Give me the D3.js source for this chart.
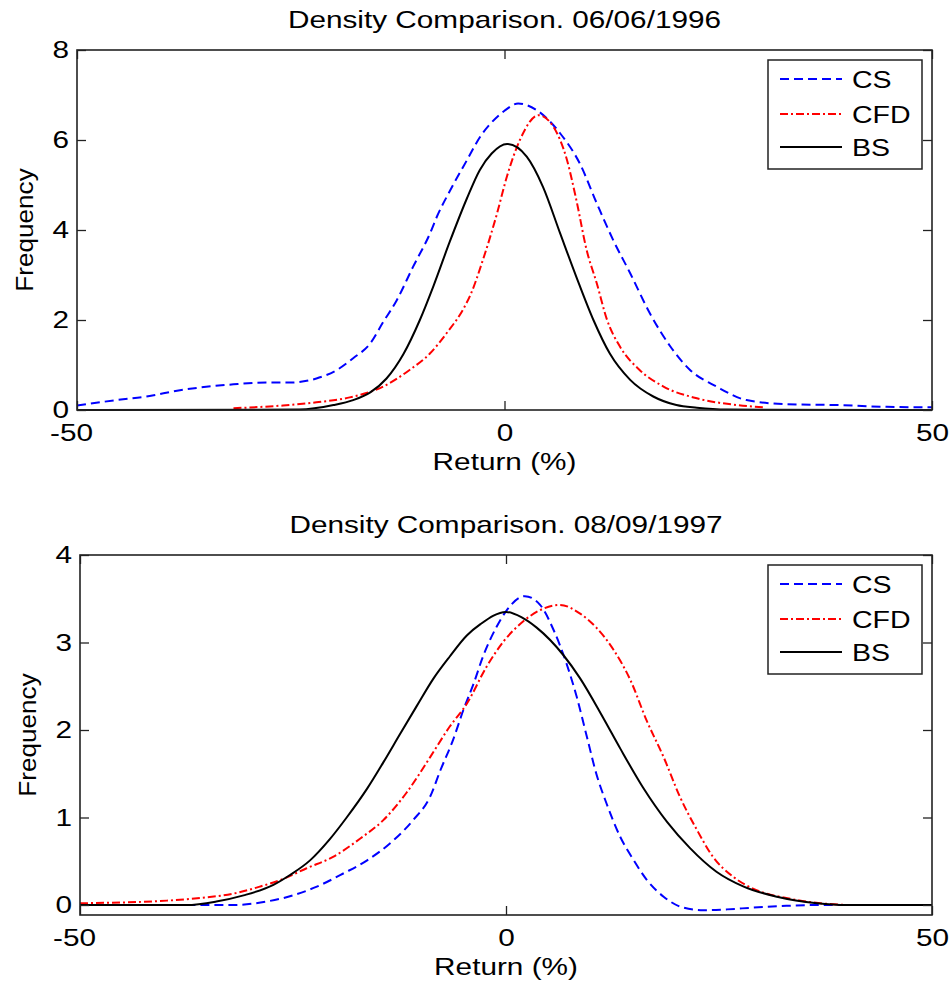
<!DOCTYPE html>
<html>
<head>
<meta charset="utf-8">
<script src="https://cdn.jsdelivr.net/npm/d3@7"></script>
<style>
body { margin: 0; background: #fff; }
</style>
</head>
<body>
<div id="chart"></div>
<script>
// values, [return %, frequency]
var xTicks = [-50, 0, 50];
var yTicks1996 = [0, 2, 4, 6, 8];
var yTicks1997 = [0, 1, 2, 3, 4];
var seriesNames = ["CS", "CFD", "BS"];

var cs1996 = [[-50,0.10],[-45.4,0.22],[-41.5,0.31],[-38.3,0.43],[-35.6,0.50],[-31.7,0.57],[-27.8,0.61],
  [-25.1,0.61],[-22.0,0.70],[-19.6,0.89],[-17.7,1.15],[-15.7,1.48],[-14.2,1.95],[-12.6,2.44],[-10.7,3.18],
  [-8.7,3.93],[-7.9,4.30],[-6.3,4.90],[-4.4,5.55],[-2.75,6.10],[-1.7,6.35],[0,6.65],[1.6,6.81],[3.7,6.67],
  [6.5,6.15],[8.8,5.48],[10.8,4.59],[12.7,3.78],[14.7,3.04],[17.0,2.15],[19.4,1.41],[21.7,0.89],[24.8,0.52],
  [28.3,0.22],[33.0,0.13],[38.8,0.11],[44.7,0.07],[50,0.06]];
var cfd1996 = [[-31.7,0.04],[-25.9,0.10],[-22.0,0.17],[-18.1,0.28],[-14.2,0.52],[-11.1,0.89],[-8.7,1.26],
  [-6.8,1.70],[-4.8,2.25],[-4.0,2.55],[-2.5,3.35],[-0.9,4.35],[0.3,5.20],[1.8,6.0],[4.0,6.55],[5.7,6.30],
  [7.3,5.56],[8.4,4.67],[9.6,3.56],[10.8,2.81],[12.0,2.0],[13.5,1.41],[15.8,0.89],[18.6,0.52],[22.5,0.26],
  [27.2,0.11],[30.3,0.06]];
var bs1996 = [[-50,0],[-24,0.01],[-20.0,0.11],[-17.7,0.22],[-15.7,0.39],[-13.8,0.70],[-11.8,1.25],[-9.9,2.0],
  [-8.3,2.76],[-6.4,3.74],[-4.4,4.70],[-2.9,5.33],[-1.5,5.70],[0.3,5.91],[2.6,5.63],[4.5,4.96],[6.5,3.93],
  [8.4,2.96],[10.4,2.0],[12.3,1.26],[14.7,0.67],[17.4,0.30],[20.1,0.11],[22.5,0.05],[26,0.01],[50,0]];

var cs1997 = [[-40.8,0],[-32,0],[-28.1,0.04],[-25.0,0.11],[-22.2,0.21],[-19.1,0.36],[-16.3,0.51],[-13.2,0.74],
  [-10.9,0.97],[-8.9,1.24],[-7.7,1.54],[-6.2,1.89],[-5.0,2.23],[-3.8,2.53],[-2.7,2.84],[-1.1,3.18],[0.1,3.37],
  [2.2,3.53],[4.0,3.43],[5.6,3.14],[7.1,2.76],[8.3,2.38],[9.5,1.92],[10.6,1.50],[11.8,1.16],[13.4,0.78],
  [15.0,0.51],[16.5,0.29],[18.5,0.095],[20.8,-0.03],[23.2,-0.06],[25.9,-0.05],[29.0,-0.03],[32.9,-0.01],
  [36.9,0],[40,0]];
var cfd1997 = [[-50,0.02],[-39.8,0.05],[-35.9,0.08],[-32.0,0.13],[-28.9,0.21],[-26.1,0.30],[-23.4,0.42],
  [-20.3,0.55],[-17.1,0.76],[-14.4,0.97],[-11.7,1.28],[-8.9,1.69],[-6.6,2.04],[-4.6,2.30],[-2.3,2.72],
  [-0.3,3.01],[2.0,3.24],[4.0,3.37],[6.3,3.43],[8.7,3.33],[10.6,3.17],[12.6,2.92],[14.6,2.57],[16.5,2.11],
  [18.5,1.69],[20.4,1.24],[22.4,0.86],[24.3,0.55],[26.7,0.32],[29.4,0.17],[32.9,0.08],[36.9,0.02],[40,0]];
var bs1997 = [[-50,0],[-37.5,0],[-34.0,0.04],[-30.8,0.11],[-27.3,0.23],[-25.4,0.34],[-23.0,0.51],[-20.7,0.75],
  [-18.7,1.00],[-16.3,1.33],[-14.4,1.63],[-12.4,1.96],[-10.5,2.27],[-8.5,2.59],[-6.6,2.84],[-4.6,3.08],
  [-3.0,3.21],[0,3.35],[1.8,3.29],[3.6,3.17],[6.7,2.86],[8.7,2.59],[11.4,2.14],[13.4,1.79],[16.1,1.34],
  [18.9,0.95],[21.6,0.65],[24.7,0.38],[27.9,0.21],[31.8,0.095],[36.5,0.02],[40,0],[50,0]];

var colors = ["#0000ff", "#ff0000", "#000000"];
var dashes = ["9,5", "8,3,2,3", null];

var font = "'Liberation Sans', Arial, sans-serif";
var SX = 1.24; // source glyphs are stretched wide

var svg = d3.select("#chart")
    .append("svg")
    .attr("width", 951)
    .attr("height", 984)
    .style("background", "#fff");

function drawPanel(p) {
    var x = d3.scaleLinear().domain([-50, 50]).range([p.left, p.right]);
    var y = d3.scaleLinear().domain(p.yDomain).range([p.bottom, p.top]);
    var g = svg.append("g");

    // curves
    var line = d3.line()
        .x(function(d) { return x(d[0]); })
        .y(function(d) { return y(d[1]); })
        .curve(d3.curveMonotoneX);

    p.series.forEach(function(s, i) {
        g.append("path")
            .datum(s)
            .attr("d", line)
            .attr("fill", "none")
            .attr("stroke", colors[i])
            .attr("stroke-width", 2)
            .attr("stroke-dasharray", dashes[i]);
    });

    // axes, ticks pointing inward on all four sides
    var fmt = function(d) { return String(d); };
    var bottomAxis = g.append("g")
        .attr("transform", "translate(0," + p.bottom + ")")
        .call(d3.axisBottom(x).tickValues(xTicks).tickSizeInner(-9).tickSizeOuter(0).tickFormat(fmt));
    bottomAxis.selectAll("text")
        .attr("y", 14)
        .attr("dx", function(d) { return d < 0 ? "-0.2em" : 0; })
        .attr("transform", "scale(" + SX + ",1)");

    g.append("g")
        .attr("transform", "translate(0," + p.top + ")")
        .call(d3.axisTop(x).tickValues(xTicks).tickSizeInner(-9).tickSizeOuter(0).tickFormat(""));

    var leftAxis = g.append("g")
        .attr("transform", "translate(" + p.left + ",0)")
        .call(d3.axisLeft(y).tickValues(p.yTicks).tickSizeInner(-9).tickSizeOuter(0).tickFormat(fmt));
    leftAxis.selectAll("text")
        .attr("x", -8 / SX)
        .attr("transform", "scale(" + SX + ",1)");

    g.append("g")
        .attr("transform", "translate(" + p.right + ",0)")
        .call(d3.axisRight(y).tickValues(p.yTicks).tickSizeInner(-9).tickSizeOuter(0).tickFormat(""));

    g.selectAll(".domain").remove();
    g.selectAll(".tick line").attr("stroke", "#222").attr("stroke-width", 1.3);
    g.selectAll(".tick text")
        .style("font-family", font)
        .style("font-size", "24px")
        .style("fill", "#000");

    g.append("rect")
        .attr("x", p.left)
        .attr("y", p.top)
        .attr("width", p.right - p.left)
        .attr("height", p.bottom - p.top)
        .attr("fill", "none")
        .attr("stroke", "#222")
        .attr("stroke-width", 1.6);

    // title and axis labels
    var cx = (p.left + p.right) / 2;
    g.append("text")
        .attr("text-anchor", "middle")
        .attr("transform", "translate(" + cx + "," + (p.top - 22) + ") scale(" + SX + ",1)")
        .style("font-family", font)
        .style("font-size", "24px")
        .text(p.title);

    g.append("text")
        .attr("text-anchor", "middle")
        .attr("transform", "translate(" + cx + "," + (p.bottom + 60) + ") scale(" + SX + ",1)")
        .style("font-family", font)
        .style("font-size", "24px")
        .text("Return (%)");

    g.append("text")
        .attr("text-anchor", "middle")
        .attr("transform", "translate(" + (p.left - 44) + "," + ((p.top + p.bottom) / 2) + ") rotate(-90) scale(1.09,1)")
        .style("font-family", font)
        .style("font-size", "24px")
        .text("Frequency");

    // legend box in the upper right corner
    var lx = p.right - 10 - 154, ly = p.top + 10;
    var legend = g.append("g").attr("transform", "translate(" + lx + "," + ly + ")");
    legend.append("rect")
        .attr("width", 154)
        .attr("height", 109)
        .attr("fill", "#fff")
        .attr("stroke", "#222")
        .attr("stroke-width", 1.5);

    var rows = legend.selectAll("g.row")
        .data(seriesNames)
        .enter()
        .append("g")
        .attr("class", "row")
        .attr("transform", function(d, i) { return "translate(0," + [19, 54, 87][i] + ")"; });
    rows.append("line")
        .attr("x1", 12)
        .attr("x2", 74)
        .attr("stroke", function(d, i) { return colors[i]; })
        .attr("stroke-width", 2)
        .attr("stroke-dasharray", function(d, i) { return dashes[i]; });
    rows.append("text")
        .attr("transform", "translate(84,8.5) scale(" + SX + ",1)")
        .style("font-family", font)
        .style("font-size", "23px")
        .text(function(d) { return d; });
}

drawPanel({
    title: "Density Comparison. 06/06/1996",
    top: 50, bottom: 410, left: 77, right: 932,
    yDomain: [0, 8], yTicks: yTicks1996,
    series: [cs1996, cfd1996, bs1996]
});

drawPanel({
    title: "Density Comparison. 08/09/1997",
    top: 555, bottom: 915, left: 80, right: 932,
    yDomain: [-0.1143, 4], yTicks: yTicks1997,
    series: [cs1997, cfd1997, bs1997]
});
</script>
</body>
</html>
